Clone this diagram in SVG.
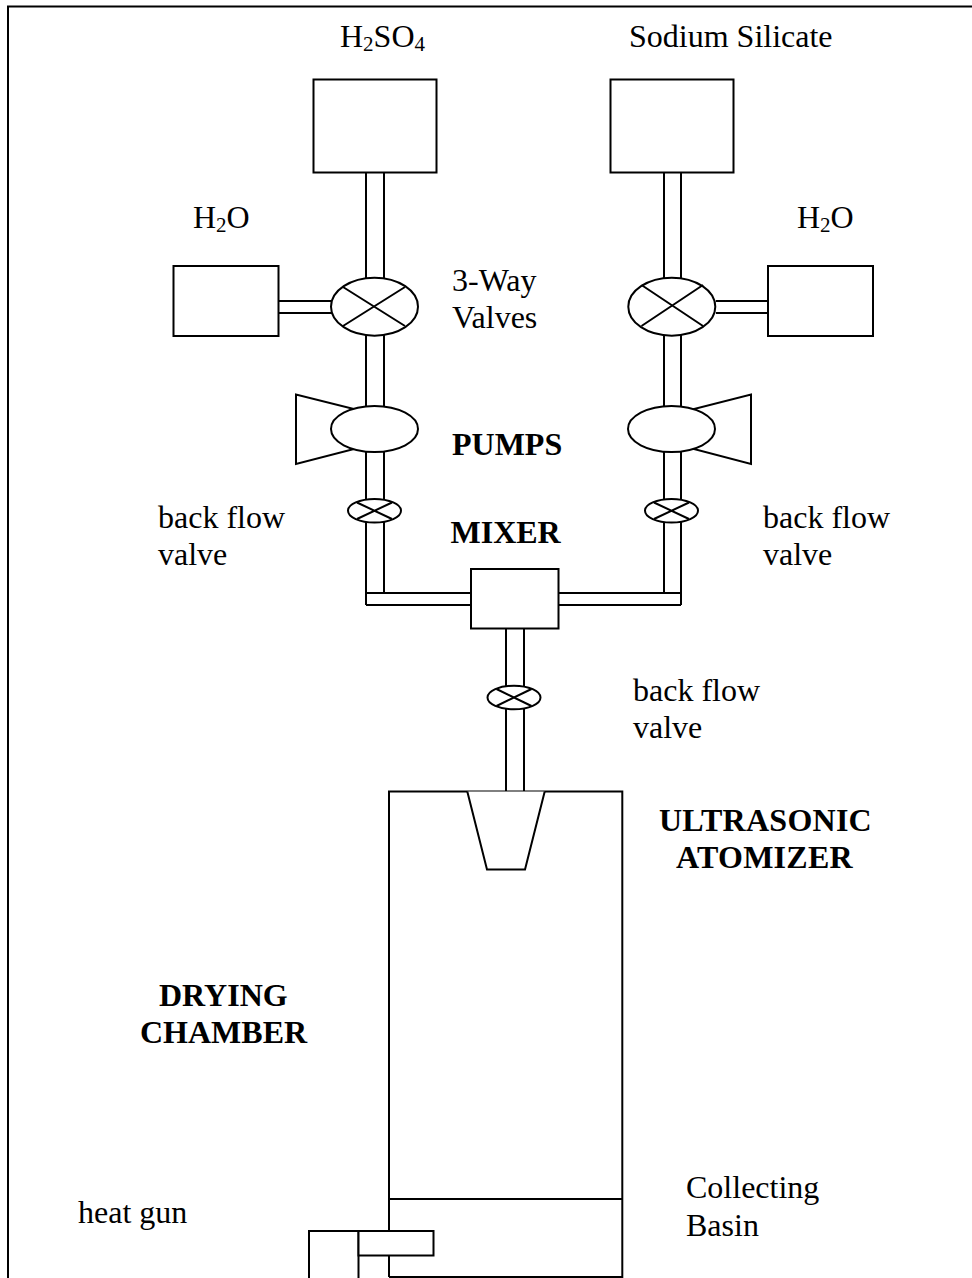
<svg xmlns="http://www.w3.org/2000/svg" width="972" height="1278" viewBox="0 0 972 1278">
<style>
.s{fill:#fff;stroke:#000;stroke-width:2}
.l{fill:none;stroke:#000;stroke-width:2}
text{font-family:"Liberation Serif","Times New Roman",serif;font-size:32px;fill:#000}
.b{font-weight:bold}
.w{letter-spacing:.25px}
.sub{font-size:21px}
</style>
<rect width="972" height="1278" fill="#fff"/>
<path id="frame" class="l" d="M8 1278V6.500H972"/>
<g id="connectors">
<path class="l" d="M366 172V279M384 172V279M366 335V406M384 335V406M366 452V499M384 452V499M366 522V593M384 522V593"/>
<path class="l" d="M664 172V279M681 172V279M664 335V406M681 335V406M664 452V499M681 452V499M664 522V593M681 522V593"/>
<path class="l" d="M278 301H332M278 313H332M716 301H768M716 313H768"/>
<path class="l" d="M366 593H471M366 605H471M558 593H681M558 605H681M366 593V605M681 593V605"/>
<path class="l" d="M506 628V686M524 628V686M506 709V791M524 709V791"/>
</g>
<g id="tank-acid"><rect class="s" x="313.500" y="79.500" width="123" height="93"/></g>
<g id="tank-silicate"><rect class="s" x="610.500" y="79.500" width="123" height="93"/></g>
<g id="tank-water-left"><rect class="s" x="173.500" y="266" width="105" height="70"/></g>
<g id="tank-water-right"><rect class="s" x="768" y="266" width="105" height="70"/></g>
<g id="valve-left"><ellipse class="s" cx="374.500" cy="306.700" rx="43.500" ry="29"/><path class="l" d="M343 287L405 326M343 326L405 287"/></g>
<g id="valve-right"><ellipse class="s" cx="671.800" cy="306.700" rx="43.500" ry="29"/><path class="l" d="M641.500 285L703 326M641.500 326L703 285"/></g>
<g id="pump-left"><path class="s" d="M296 394.500V464L358 448V410Z"/><ellipse class="s" cx="374.500" cy="429" rx="43.500" ry="23"/></g>
<g id="pump-right"><path class="s" d="M751 394.500V464L690 448V410Z"/><ellipse class="s" cx="671.500" cy="429" rx="43.500" ry="23"/></g>
<g id="check-left"><ellipse class="s" cx="374.500" cy="510.800" rx="26.500" ry="11.800"/><path class="l" d="M357 502.500L392 519M357 519L392 502.500"/></g>
<g id="check-right"><ellipse class="s" cx="671.500" cy="510.800" rx="26.500" ry="11.800"/><path class="l" d="M654 502.500L689 519M654 519L689 502.500"/></g>
<g id="check-bottom"><ellipse class="s" cx="514" cy="697.500" rx="26.500" ry="11.800"/><path class="l" d="M496.500 689L531.500 706M496.500 706L531.500 689"/></g>
<g id="mixer"><rect class="s" x="471" y="569" width="87.500" height="59.500"/></g>
<g id="chamber"><path class="s" d="M389 1277V791.500H622.300V1277H389"/><path class="l" d="M389 1199H622.300"/></g>
<g id="atomizer"><path class="s" d="M467.300 791.500L487 869.500H525L544.700 791.500"/></g>
<g id="heat-gun"><path class="l" d="M309 1278V1231H358.500V1278"/><rect class="s" x="358.500" y="1231" width="75" height="24.500"/></g>
<g id="labels">
<text x="340" y="47">H<tspan class="sub" dy="4">2</tspan><tspan dy="-4">SO</tspan><tspan class="sub" dy="4">4</tspan></text>
<text x="629" y="47">Sodium Silicate</text>
<text x="193" y="228">H<tspan class="sub" dy="4">2</tspan><tspan dy="-4">O</tspan></text>
<text x="797" y="228">H<tspan class="sub" dy="4">2</tspan><tspan dy="-4">O</tspan></text>
<text x="452" y="291">3-Way</text>
<text x="452" y="328">Valves</text>
<text class="b" x="452" y="455">PUMPS</text>
<text class="b" x="450.500" y="543">MIXER</text>
<text x="158" y="528">back flow</text>
<text x="158" y="565">valve</text>
<text x="763" y="528">back flow</text>
<text x="763" y="565">valve</text>
<text x="633" y="701">back flow</text>
<text x="633" y="738">valve</text>
<text class="b w" x="659" y="831">ULTRASONIC</text>
<text class="b w" x="676" y="868">ATOMIZER</text>
<text class="b" x="159" y="1006">DRYING</text>
<text class="b" x="140" y="1043">CHAMBER</text>
<text x="686" y="1197.500">Collecting</text>
<text x="686" y="1236">Basin</text>
<text x="78" y="1223">heat gun</text>
</g>
</svg>
